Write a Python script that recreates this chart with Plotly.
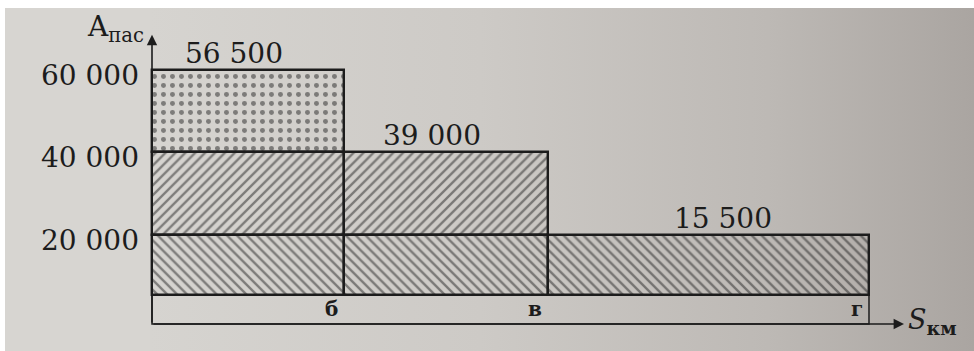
import plotly.graph_objects as go

# ---- data ----
stations = ["а", "б", "в", "г"]
station_km = [0, 192, 396, 717]
segment_flows = [56500, 39000, 15500]          # labelled flows on each segment
band_tops = [60000, 40000, 20000]              # band upper limits (tick values)
band_segments = [1, 2, 3]                      # how many segments each band spans (to б, в, г)
band_patterns = [".", "/", "\\"]

# ---- layout constants ----
BASE = 5400        # bottom of the bars (top of station strip)
STRIP_BOTTOM = -1600
X_RANGE = [-2, 822]
Y_RANGE = [-8163, 76929]
FONT = "DejaVu Serif"
BG = "#d7d5d1"
INK = "#1c1c1c"
CLEAR = "rgba(0,0,0,0)"

fig = go.Figure()

# photographed page background (horizontal shading) on the base axes (drawn first)
fig.add_trace(go.Scatter(
    x=[X_RANGE[0], X_RANGE[1], X_RANGE[1], X_RANGE[0], X_RANGE[0]],
    y=[Y_RANGE[0], Y_RANGE[0], Y_RANGE[1], Y_RANGE[1], Y_RANGE[0]],
    mode="lines", line=dict(width=0), fill="toself",
    fillgradient=dict(type="horizontal",
                      colorscale=[[0, "#d6d4d0"], [0.4, "#cdcac6"], [0.75, "#bdb9b5"], [1, "#aaa5a1"]]),
    hoverinfo="skip", showlegend=False,
))

seg_start = station_km[:-1]
seg_end = station_km[1:]
for i, top in enumerate(band_tops):
    bottom = band_tops[i + 1] if i + 1 < len(band_tops) else BASE
    n = band_segments[i]
    xs = [(seg_start[k] + seg_end[k]) / 2 for k in range(n)]
    ws = [seg_end[k] - seg_start[k] for k in range(n)]
    dots = band_patterns[i] == "."
    fig.add_trace(go.Bar(
        x=xs, y=[top - bottom] * n, base=[bottom] * n, width=ws,
        xaxis="x2", yaxis="y2",
        marker=dict(
            color=CLEAR,
            line=dict(color=INK, width=2.4),
            pattern=dict(shape=band_patterns[i], size=9 if dots else 7,
                         solidity=0.24 if dots else 0.34,
                         fgcolor="#262626", bgcolor=CLEAR),
        ),
        hoverinfo="skip", showlegend=False,
    ))

# flow labels above each segment
seg_tops = band_tops  # segment k top is band_tops[k]
label_shift = [-14, -14, 14]
for k, v in enumerate(segment_flows):
    fig.add_annotation(
        x=(seg_start[k] + seg_end[k]) / 2, y=seg_tops[k], xref="x", yref="y",
        text=f"{v:,}".replace(",", " "), showarrow=False, yanchor="bottom",
        xshift=label_shift[k], yshift=-2,
        font=dict(family=FONT, size=28, color=INK),
    )

# station strip
fig.add_shape(type="rect", x0=station_km[0], x1=station_km[-1], y0=STRIP_BOTTOM, y1=BASE,
              xref="x", yref="y", line=dict(color=INK, width=1.5), fillcolor=CLEAR, layer="above")
for s, km in zip(stations[1:], station_km[1:]):
    fig.add_annotation(x=km, y=(BASE + STRIP_BOTTOM) / 2, xref="x", yref="y", text=f"<b>{s}</b>",
                       showarrow=False, xanchor="right", xshift=-4,
                       font=dict(family=FONT, size=20, color=INK))

# axes arrows
fig.add_annotation(x=station_km[0], y=68500, ax=station_km[0], ay=STRIP_BOTTOM,
                   xref="x", yref="y", axref="x", ayref="y", text="", showarrow=True,
                   arrowhead=2, arrowsize=1.3, arrowwidth=1.6, arrowcolor=INK)
fig.add_annotation(x=752, y=STRIP_BOTTOM, ax=station_km[0], ay=STRIP_BOTTOM,
                   xref="x", yref="y", axref="x", ayref="y", text="", showarrow=True,
                   arrowhead=2, arrowsize=1.3, arrowwidth=1.6, arrowcolor=INK)
fig.add_annotation(x=station_km[0], y=68500, xref="x", yref="y", text="A<sub>пас</sub>",
                   showarrow=False, xanchor="right", yanchor="bottom", xshift=-6, yshift=-14,
                   font=dict(family=FONT, size=28, color=INK))
fig.add_annotation(x=754, y=STRIP_BOTTOM, xref="x", yref="y", text="<i>S</i><sub><b>км</b></sub>",
                   showarrow=False, xanchor="left", yanchor="middle", yshift=2,
                   font=dict(family=FONT, size=27, color=INK))

# white page edge of the photograph (top and left)
fig.add_shape(type="rect", xref="paper", yref="paper", x0=-150 / 824, x1=1, y0=1 - 8 / 351, y1=1,
              line=dict(width=0), fillcolor="white", layer="above")
fig.add_shape(type="rect", xref="paper", yref="paper", x0=-150 / 824, x1=-145 / 824, y0=0, y1=1,
              line=dict(width=0), fillcolor="white", layer="above")

fig.update_layout(
    width=974, height=351,
    margin=dict(l=150, r=0, t=0, b=0),
    paper_bgcolor=BG, plot_bgcolor=BG,
    barmode="overlay", bargap=0,
    xaxis=dict(range=X_RANGE, visible=False, fixedrange=True, automargin=False),
    yaxis=dict(range=Y_RANGE, tickvals=band_tops,
               ticktext=[f"{v:,}".replace(",", " ") for v in band_tops],
               showgrid=False, zeroline=False, showline=False, ticks="",
               ticklabelstandoff=10, ticklabelshift=5, automargin=False, fixedrange=True,
               tickfont=dict(family=FONT, size=28, color=INK)),
    xaxis2=dict(range=X_RANGE, visible=False, fixedrange=True, overlaying="x", automargin=False),
    yaxis2=dict(range=Y_RANGE, visible=False, fixedrange=True, overlaying="y", automargin=False),
    showlegend=False,
)

fig.write_html("out.html", config={"displayModeBar": False},
               post_script="document.body.style.margin='0';document.body.style.background='white';")
